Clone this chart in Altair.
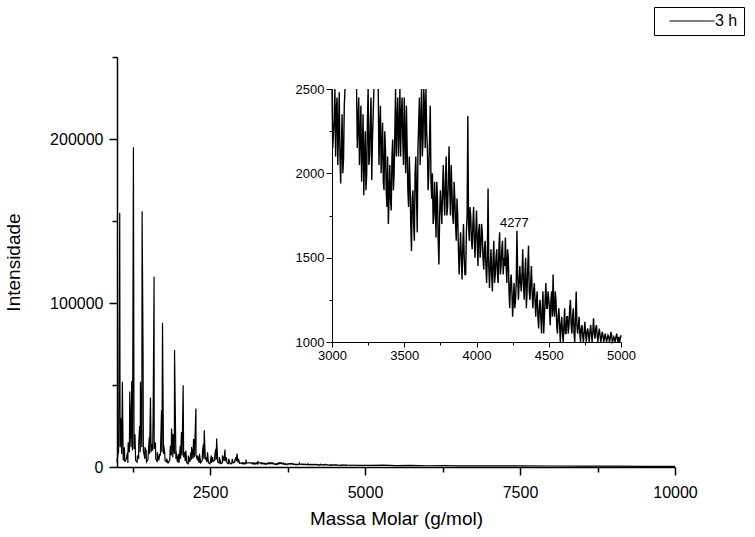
import altair as alt
import pandas as pd

FONT = "Liberation Sans"

# ---------------- main spectrum ----------------
# baseline samples: every 25 g/mol from 1000 to 3000
base_x_grid = list(range(1000, 3001, 25))
base_y_grid = [
    3000, 9000, 12000, 8000, 4000, 3000, 5000, 2500, 9000, 12000,      # 1000-1225
    10000, 11000, 4000, 3000, 5000, 9000, 12000, 10000, 5000, 3000,    # 1250-1475
    4500, 8000, 9000, 10000, 11000, 5000, 3000, 4000, 7000, 9000,      # 1500-1725
    8000, 4000, 3000, 2500, 4000, 7000, 6000, 8000, 5000, 3000,        # 1750-1975
    2500, 5000, 7000, 6000, 3500, 2500, 2000, 3000, 4500, 5000,        # 2000-2225
    6000, 7000, 4000, 2500, 2500, 4000, 5000, 4500, 3000, 2500,        # 2250-2475
    2000, 2500, 3500, 4000, 4500, 3000, 2500, 2000, 2500, 3500,        # 2500-2725
    3500, 2500, 2000, 2200, 2000, 2500, 3000, 3500, 2800, 2300,        # 2750-2975
    2500,                                                              # 3000
]
# sparse tail beyond the inset range
base_x_tail = [5100, 5300, 5500, 5750, 6000, 6250, 6500, 7000, 7500, 8000,
               8500, 9000, 9500, 10000]
base_y_tail = [1000, 1200, 850, 1000, 750, 900, 700, 650, 700, 600,
               550, 500, 400, 350]

# spike tops
peak_x = [1015, 1030, 1044, 1060, 1087, 1110, 1120, 1150, 1170, 1180,
          1205, 1238, 1265, 1290, 1330, 1350, 1365, 1378, 1405, 1421,
          1450, 1470, 1500, 1520, 1540, 1560, 1583, 1598, 1620, 1650,
          1690, 1705, 1718, 1734, 1750, 1770, 1800, 1860, 1879, 1895,
          1906, 1928, 1950, 1990, 2020, 2040, 2067, 2090, 2110, 2150,
          2190, 2203, 2235, 2255, 2273, 2300, 2330, 2380, 2395, 2407,
          2430, 2460, 2520, 2542, 2580, 2595, 2607, 2650, 2700, 2720,
          2741, 2760, 2800, 2860, 2900, 2920, 2936, 2960]
peak_h = [8000, 41000, 155000, 30000, 52000, 9000, 12000, 5000, 9000, 15000,
          46000, 52500, 195000, 20000, 7000, 14000, 25000, 52000, 156000, 66700,
          12000, 10000, 6000, 18000, 42400, 14000, 32200, 116000, 15000, 9000,
          8000, 15000, 34600, 88000, 14000, 9000, 5000, 13000, 23400, 16000,
          20000, 71300, 10000, 8000, 13000, 21400, 49900, 9000, 10000, 7000,
          9000, 12200, 17000, 15000, 35700, 7000, 8000, 10000, 14000, 22400,
          6000, 9000, 7000, 6100, 8000, 11000, 17300, 6000, 7000, 5000,
          10600, 6000, 5000, 5000, 4000, 6000, 8200, 5000]
extra_x = [3081, 3275]       # small spikes just above the inset band
extra_h = [4500, 3700]

series_name = "3 h"

# ---------------- inset spectrum, 3000-5000 ----------------
# samples at 3000, 3010, ..., 5000 (None = above 2500, off the inset)
inset_x = list(range(3000, 5001, 10))
inset_y = [
    2500, 2230, 2500, 2380, 2050, 2480, 1940, 2350, 2090, 2500,        # 3000
    None, None, None, None, None, None, None, 2500, 2300, 2050,        # 3100
    2400, 2150, 1870, 2250, 1990, 2500, 2100, 2450, 2200, 2500,        # 3200
    None, None, 2500, 2250, 2000, 2300, 1900, 2150, 1800, 1700,        # 3300
    2050, 1780, 2200, 2000, 2500, 2300, 2100, 2500, 2350, 2200,        # 3400
    2450, 2000, 2150, 1800, 1950, 1540, 1900, 1600, 2100, 1650,        # 3500
    2300, 2050, 2500, 2200, 2400, 2500, 2150, 2000, 2400, 1850,        # 3600
    1700, 1950, 1620, 1850, 1460, 1900, 1700, 2050, 1750, 2100,        # 3700
    1800, 2160, 1750, 1900, 1700, 1850, 1600, 1750, 1400, 1650,        # 3800
    1370, 1700, 1400, 1650, 2340, 1600, 1750, 1550, 1800, 1500,        # 3900
    1780, 1450, 1700, 1550, 1650, 1430, 1600, 1350, 1910, 1320,        # 4000
    1550, 1300, 1600, 1400, 1550, 1350, 1650, 1450, 1600, 1500,        # 4100
    1620, 1350, 1500, 1200, 1400, 1150, 1350, 1250, 1660, 1250,        # 4200
    1450, 1300, 1550, 1250, 1500, 1300, 1570, 1250, 1450, 1200,        # 4300
    1350, 1150, 1300, 1080, 1250, 1050, 1300, 1150, 1350, 1200,        # 4400
    1250, 1100, 1300, 1400, 1150, 1250, 1050, 1200, 1000, 1150,        # 4500
    1000, 1200, 1050, 1150, 1100, 1250, 1050, 1200, 1000, 1300,        # 4600
    1050, 1150, 1000, 1100, 1000, 1120, 1000, 1080, 1000, 1100,        # 4700
    1000, 1140, 1020, 1100, 1000, 1080, 1000, 1060, 1000, 1050,        # 4800
    1000, 1040, 1000, 1060, 1000, 1030, 1000, 1050, 1000, 1000,        # 4900
    1040,                                                              # 5000
]
# in-between samples at 3005, 3015, ..., 4995
inset_x_mid = list(range(3005, 5000, 10))
inset_y_mid = [
    2150, 2320, 2100, 2450, 2250, 2100, 2150, 2000, 2400, None,        # 3005
    None, None, None, None, None, None, None, 2150, 2450, 2200,        # 3105
    1950, 2350, 2100, 1900, 2300, 2050, 2300, 1960, 2350, None,        # 3205
    None, None, 2050, 2400, 2150, 1950, 2250, 1900, 2100, 1850,        # 3305
    1850, 2100, 1900, 2250, 2100, 2450, 2250, 2100, 2450, 2050,        # 3405
    2200, 2400, 1900, 2100, 1700, 1850, 1700, 2000, 1850, 2150,        # 3505
    2450, 2300, 2100, 2500, 2150, 2250, 1900, 2200, 1950, 2000,        # 3605
    1750, 1800, 1950, 1600, 1750, 1800, 1900, 1850, 1950, 1750,        # 3705
    1950, 1900, 2050, 1750, 1950, 1700, 1850, 1550, 1550, 1500,        # 3805
    1550, 1500, 1400, 1750, 1700, 1800, 1600, 1700, 1600, 1650,        # 3905
    1600, 1650, 1500, 1700, 1500, 1550, 1450, 1500, 1450, 1450,        # 4005
    1400, 1500, 1350, 1500, 1400, 1550, 1400, 1550, 1400, 1450,        # 4105
    1450, 1550, 1300, 1350, 1300, 1250, 1200, 1350, 1400, 1350,        # 4205
    1350, 1400, 1350, 1400, 1200, 1450, 1300, 1350, 1300, 1300,        # 4305
    1250, 1250, 1150, 1200, 1150, 1200, 1050, 1250, 1200, 1300,        # 4405
    1200, 1250, 1150, 1200, 1300, 1100, 1150, 1100, 1100, 1050,        # 4505
    1100, 1050, 1150, 1050, 1200, 1100, 1150, 1050, 1150, 1100,        # 4605
    1100, 1050, 1080, 1040, 1060, 1050, 1060, 1040, 1060, 1050,        # 4705
    1060, 1060, 1080, 1040, 1050, 1040, 1030, 1040, 1020, 1030,        # 4805
    1020, 1030, 1020, 1040, 1010, 1020, 1030, 1020, 1030, 1020,        # 4905
]
annot_text = ["4277"]
annot_x = [4262]
annot_y = [1683]

# tick values
main_x_ticks = [1250, 2500, 3750, 5000, 6250, 7500, 8750, 10000]
main_y_ticks = [0, 50000, 100000, 150000, 200000, 250000]
inset_x_ticks = [3000, 3250, 3500, 3750, 4000, 4250, 4500, 4750, 5000]
inset_y_ticks = [1000, 1250, 1500, 1750, 2000, 2250, 2500]

# ---------------- tables ----------------
inset_pts = sorted(list(zip(inset_x, inset_y)) + list(zip(inset_x_mid, inset_y_mid)),
                   key=lambda p: p[0])
rows = []
seg = 0
for xv, yv in inset_pts:
    if yv is None:
        seg += 1
        continue
    rows.append({"ix": xv, "iy": yv, "seg": seg})
inset_df = pd.DataFrame(rows)
inset_df["order"] = range(len(inset_df))

pts = (list(zip(base_x_grid, base_y_grid)) + list(zip(peak_x, peak_h))
       + list(zip(extra_x, extra_h))
       + [(r["ix"], r["iy"]) for r in rows if r["ix"] > 3000]
       + list(zip(base_x_tail, base_y_tail)))
pts.sort(key=lambda p: p[0])
main_df = pd.DataFrame({"x": [p[0] for p in pts], "y": [p[1] for p in pts]})
main_df["series"] = series_name
main_df["order"] = range(len(main_df))

annot_df = pd.DataFrame({"ix": annot_x, "iy": annot_y, "t": annot_text})

W, H = 558, 410
PAD_L, PAD_T = 117, 57

def tick_size(mult, big, small):
    return {"condition": {"test": f"datum.value % {mult} === 0", "value": big}, "value": small}

main_axis_common = dict(
    format="d", labelFont=FONT, labelFontSize=16, labelColor="black",
    titleFont=FONT, titleFontSize=19, titleFontWeight="normal", titleColor="black",
    domainColor="black", domainWidth=1.5, tickColor="black", tickWidth=1.5,
    grid=False, labelFlush=False, labelOverlap=False, labelBound=False,
)

main = alt.Chart(main_df).mark_line(strokeWidth=1.2).encode(
    x=alt.X("x:Q",
            scale=alt.Scale(domain=[1000, 10000], nice=False, zero=False),
            axis=alt.Axis(title="Massa Molar (g/mol)", values=main_x_ticks,
                          labelExpr="datum.value % 2500 === 0 ? datum.label : ''",
                          tickSize=tick_size(2500, 8, 5), labelPadding=9, titlePadding=9,
                          **main_axis_common)),
    y=alt.Y("y:Q",
            scale=alt.Scale(domain=[0, 250000], nice=False, zero=True),
            axis=alt.Axis(title="Intensidade", values=main_y_ticks,
                          labelExpr="datum.value % 100000 === 0 ? datum.label : ''",
                          tickSize=tick_size(100000, 8, 5), labelPadding=6, titlePadding=26,
                          **main_axis_common)),
    order="order:Q",
    color=alt.Color("series:N",
                    scale=alt.Scale(domain=[series_name], range=["black"]),
                    legend=alt.Legend(title=None, orient="none",
                                      legendX=537, legendY=-50,
                                      symbolType="M-4.5,0L4.5,0", symbolSize=100,
                                      symbolStrokeWidth=1, symbolOffset=24,
                                      labelFont=FONT, labelFontSize=16,
                                      labelColor="black", labelOffset=15,
                                      padding=6, strokeColor="black",
                                      fillColor="white")),
)

inset_axis_common = dict(
    format="d", labelFont=FONT, labelFontSize=13, labelColor="black",
    domainColor="black", domainWidth=1, tickColor="black", tickWidth=1,
    grid=False, labelFlush=False, labelOverlap=False, labelBound=False, title=None,
)

IX0, IX1 = 215, 504   # inset range in plot-area pixels
IY0, IY1 = 285, 32

inset_line = alt.Chart(inset_df).mark_line(strokeWidth=1.4, color="black").encode(
    x=alt.X("ix:Q",
            scale=alt.Scale(domain=[3000, 5000], range=[IX0, IX1], nice=False, zero=False),
            axis=alt.Axis(orient="bottom", offset=-(H - IY0), values=inset_x_ticks,
                          labelExpr="datum.value % 500 === 0 ? datum.label : ''",
                          tickSize=tick_size(500, 5, 3), labelPadding=2,
                          **inset_axis_common)),
    y=alt.Y("iy:Q",
            scale=alt.Scale(domain=[1000, 2500], range=[IY0, IY1], nice=False, zero=False),
            axis=alt.Axis(orient="left", offset=-IX0, values=inset_y_ticks,
                          labelExpr="datum.value % 500 === 0 ? datum.label : ''",
                          tickSize=tick_size(500, 6, 3), labelPadding=2,
                          **inset_axis_common)),
    detail="seg:N",
    order="order:Q",
)

inset_text = alt.Chart(annot_df).mark_text(
    font=FONT, fontSize=13, color="black", align="center", baseline="alphabetic"
).encode(x=alt.X("ix:Q"), y=alt.Y("iy:Q"), text="t:N")

inset = alt.layer(inset_line, inset_text)

chart = alt.layer(main, inset).resolve_scale(
    x="independent", y="independent"
).properties(
    width=W, height=H,
    background="white",
    autosize=alt.AutoSizeParams(type="none"),
    padding={"left": PAD_L, "top": PAD_T, "right": 755 - PAD_L - W, "bottom": 537 - PAD_T - H},
).configure_view(stroke="transparent", strokeWidth=0)

chart.save("out.html", embed_options={"renderer": "svg", "actions": False})
